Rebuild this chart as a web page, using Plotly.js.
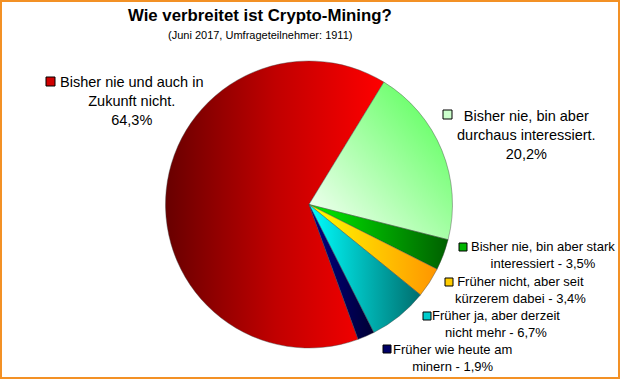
<!DOCTYPE html>
<html>
<head>
<meta charset="utf-8">
<script src="https://cdn.plot.ly/plotly-3.0.1.min.js"></script>
<style>
  html, body { margin: 0; padding: 0; background: #fff; }
  #wrap { position: relative; width: 620px; height: 379px; }
  #chart { width: 620px; height: 379px; }
  #frame { position: absolute; left: 0; top: 0; width: 620px; height: 379px; box-sizing: border-box;
           border: 2px solid #f39125; pointer-events: none; }
</style>
</head>
<body>
<div id="wrap"><div id="chart"></div><div id="frame"></div></div>
<script>
// ---- data ----
const categories = [
  "Bisher nie und auch in Zukunft nicht.",
  "Bisher nie, bin aber durchaus interessiert.",
  "Bisher nie, bin aber stark interessiert",
  "Früher nicht, aber seit kürzerem dabei",
  "Früher ja, aber derzeit nicht mehr",
  "Früher wie heute am minern"
];
const values = [64.3, 20.2, 3.5, 3.4, 6.7, 1.9];
const labelLines = [
  "Bisher nie und auch in<br>Zukunft nicht.",
  "Bisher nie, bin aber<br>durchaus interessiert.",
  "Bisher nie, bin aber stark<br>interessiert",
  "Früher nicht, aber seit<br>kürzerem dabei",
  "Früher ja, aber derzeit<br>nicht mehr",
  "Früher wie heute am<br>minern"
];
const valueSeparators = ["<br>", "<br>", " - ", " - ", " - ", " - "];
const titleText = "Wie verbreitet ist Crypto-Mining?";
const subtitleText = "(Juni 2017, Umfrageteilnehmer: 1911)";

// ---- styles ----
const baseColors = ["#c00000", "#b8ffb8", "#00b000", "#ffcc00", "#00c8c8", "#000066"];
const gradients = [
  [[0, "#680000"], [0.5, "#c00000"], [1, "#ff0000"]],
  [[0, "#ffffff"], [1, "#4cff4c"]],
  [[0, "#00f000"], [1, "#006000"]],
  [[0, "#ffff00"], [1, "#ff9500"]],
  [[0, "#00ffff"], [1, "#006e6e"]],
  [[0, "#000088"], [1, "#000033"]]
];
const gradDir = ["h", "d", "h", "h", "h", "h"];
const swatchColors = ["#d00000", "#ccffcc", "#00b400", "#ffcc00", "#00cccc", "#000066"];
// label layout (pixel centers) and swatch boxes
const labelPos = [[132, 100.5, 14.5], [526, 134.5, 14.5], [542.5, 255, 13], [520, 290, 13], [495.5, 324, 13], [452.5, 357.5, 13]];
const swatchBox = [[46, 77, 9], [443, 110, 9], [459, 243, 8], [445, 278, 8], [423, 312, 8], [383, 345, 8]];

const W = 620, H = 379;
const px = x => x / W;
const py = y => 1 - y / H;
const FONT = "Liberation Sans, Arial, sans-serif";

const pctText = v => v.toFixed(1).replace(".", ",") + "%";

const annotations = [
  { text: "<b>" + titleText + "</b>", x: px(260), y: py(15), size: 16.8 },
  { text: subtitleText, x: px(260), y: py(35), size: 11 }
].map(a => ({
  text: a.text, x: a.x, y: a.y, xref: "paper", yref: "paper", showarrow: false,
  xanchor: "center", yanchor: "middle", font: { family: FONT, size: a.size, color: "#000" }
}));

categories.forEach((c, i) => {
  annotations.push({
    text: labelLines[i] + valueSeparators[i] + pctText(values[i]),
    x: px(labelPos[i][0]), y: py(labelPos[i][1]), xref: "paper", yref: "paper",
    showarrow: false, xanchor: "center", yanchor: "middle", align: "center",
    font: { family: FONT, size: labelPos[i][2], color: "#000" }
  });
});

const shapes = swatchBox.map((b, i) => ({
  type: "rect", xref: "paper", yref: "paper",
  x0: px(b[0]), x1: px(b[0] + b[2]), y0: py(b[1] + b[2]), y1: py(b[1]),
  line: { color: "#000", width: 1 }, fillcolor: swatchColors[i]
}));

// pie occupies a circle centred at (309, 204.5) with radius 143.5 px
const cx = 309, cy = 204.5, r = 143.5;
const trace = {
  type: "pie",
  labels: categories,
  values: values,
  sort: false,
  direction: "clockwise",
  rotation: 160,
  textinfo: "none",
  hoverinfo: "none",
  showlegend: false,
  marker: { colors: baseColors, line: { color: "rgba(70,70,70,0.7)", width: 0.6 } },
  domain: { x: [px(cx - r), px(cx + r)], y: [py(cy + r), py(cy - r)] }
};

const layout = {
  width: W, height: H,
  margin: { l: 0, r: 0, t: 0, b: 0 },
  paper_bgcolor: "#fff", plot_bgcolor: "#fff",
  showlegend: false,
  annotations: annotations,
  shapes: shapes
};

Plotly.newPlot("chart", [trace], layout, { displayModeBar: false, staticPlot: true }).then(gd => {
  const NS = "http://www.w3.org/2000/svg";
  const svg = gd.querySelector(".main-svg");
  const defs = document.createElementNS(NS, "defs");
  gradients.forEach((stops, i) => {
    const g = document.createElementNS(NS, "linearGradient");
    g.setAttribute("id", "sliceGrad" + i);
    if (gradDir[i] === "d") {
      g.setAttribute("x1", "0"); g.setAttribute("y1", "1");
      g.setAttribute("x2", "1"); g.setAttribute("y2", "0");
    } else {
      g.setAttribute("x1", "0"); g.setAttribute("y1", "0");
      g.setAttribute("x2", "1"); g.setAttribute("y2", "0");
    }
    stops.forEach(s => {
      const st = document.createElementNS(NS, "stop");
      st.setAttribute("offset", s[0]);
      st.setAttribute("stop-color", s[1]);
      g.appendChild(st);
    });
    defs.appendChild(g);
  });
  svg.insertBefore(defs, svg.firstChild);
  gd.querySelectorAll(".slice path.surface").forEach((p, i) => {
    p.style.fill = "url(#sliceGrad" + i + ")";
  });
});
</script>
</body>
</html>
